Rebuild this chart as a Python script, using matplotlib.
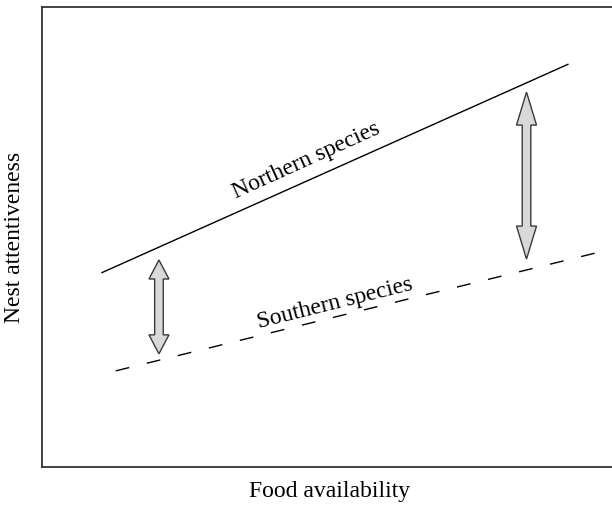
import matplotlib
matplotlib.use("Agg")
import matplotlib.pyplot as plt
from matplotlib.patches import Polygon
from matplotlib.transforms import IdentityTransform

plt.rcParams['font.family'] = ['Liberation Serif', 'DejaVu Serif']
plt.rcParams['lines.scale_dashes'] = False

# Conceptual data (food availability 0-10, nest attentiveness 0-10)
northern_x = [1.03, 9.14]
northern_y = [4.22, 8.76]
southern_x = [1.28, 9.70]
southern_y = [2.09, 4.68]
arrow_x = [2.03, 8.41]
arrow_top = [4.50, 8.15]
arrow_bottom = [2.46, 4.52]
labels = ["Northern species", "Southern species"]

W, H = 612, 505
fig = plt.figure(figsize=(W / 100, H / 100), dpi=100)
ax = fig.add_axes([42 / W, (H - 467) / H, (W - 42) / W + 0.01, 460 / H])
ax.set_xlim(0, 10)
ax.set_ylim(0, 10)
ax.set_xticks([])
ax.set_yticks([])
for s in ['left', 'top', 'bottom']:
    ax.spines[s].set_color('#333333')
    ax.spines[s].set_linewidth(1.3)
ax.spines['right'].set_visible(False)

ax.plot(northern_x, northern_y, color='black', lw=1.0, solid_capstyle='butt')
ax.plot(southern_x, southern_y, color='black', lw=1.0, linestyle=(0, (10, 13)))

ax.text(4.58, 6.65, labels[0], rotation=24.3, ha='center', va='center', fontsize=17,
        rotation_mode='anchor')
ax.text(5.09, 3.55, labels[1], rotation=14.0, ha='center', va='center', fontsize=17,
        rotation_mode='anchor')

ax.set_xlabel("Food availability", fontsize=17, labelpad=10)
ax.set_ylabel("Nest attentiveness", fontsize=17, labelpad=12)

fig.canvas.draw()

def double_arrow(x, y0, y1, hl):
    (px, py0) = ax.transData.transform((x, y0))
    (_, py1) = ax.transData.transform((x, y1))
    sw = 4.3   # half shaft width (px)
    hw = 10.0  # half head width
    lo, hi = min(py0, py1), max(py0, py1)
    pts = [
        (px, hi), (px + hw, hi - hl), (px + sw, hi - hl), (px + sw, lo + hl),
        (px + hw, lo + hl), (px, lo), (px - hw, lo + hl), (px - sw, lo + hl),
        (px - sw, hi - hl), (px - hw, hi - hl),
    ]
    poly = Polygon(pts, closed=True, facecolor='#d9d9d9', edgecolor='#3a3a3a',
                   lw=1.0, transform=IdentityTransform(), zorder=3)
    fig.add_artist(poly)

for x, t, b, hl in zip(arrow_x, arrow_top, arrow_bottom, [19.0, 33.0]):
    double_arrow(x, t, b, hl)

fig.savefig("out.png", dpi=100)
